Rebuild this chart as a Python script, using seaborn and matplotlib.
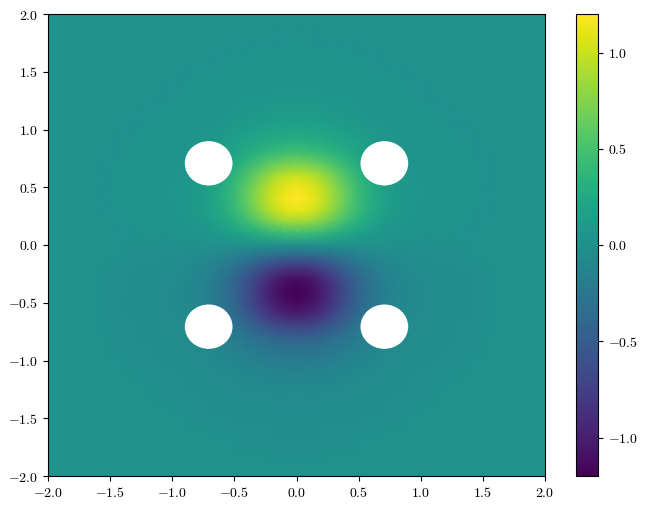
import numpy as np
import matplotlib
matplotlib.use('Agg')
import matplotlib.pyplot as plt
from matplotlib.patches import Circle
import seaborn as sns

# field, x = 0..2 (columns), y = 0..2 (rows), step 0.1
# the picture is mirrored left/right and flips sign top/bottom
quadrant = [
    [0.00, 0.00, 0.00, 0.00, 0.00, 0.00, 0.00, 0.00, 0.00, 0.00, 0.00, 0.00, 0.00, 0.00, 0.00, 0.00, 0.00, 0.00, 0.00, 0.00, 0.00],
    [0.45, 0.43, 0.38, 0.31, 0.23, 0.16, 0.11, 0.07, 0.04, 0.03, 0.02, 0.01, 0.01, 0.01, 0.00, 0.00, 0.00, 0.00, 0.00, 0.00, 0.00],
    [0.85, 0.82, 0.72, 0.59, 0.44, 0.31, 0.20, 0.13, 0.08, 0.05, 0.03, 0.03, 0.02, 0.01, 0.01, 0.00, 0.00, 0.00, 0.00, 0.00, 0.00],
    [1.12, 1.08, 0.95, 0.77, 0.58, 0.40, 0.27, 0.17, 0.10, 0.07, 0.04, 0.03, 0.02, 0.02, 0.01, 0.01, 0.00, 0.00, 0.00, 0.00, 0.00],
    [1.20, 1.15, 1.02, 0.83, 0.62, 0.43, 0.29, 0.18, 0.11, 0.07, 0.05, 0.04, 0.02, 0.02, 0.01, 0.01, 0.00, 0.00, 0.00, 0.00, 0.00],
    [1.15, 1.10, 0.98, 0.79, 0.60, 0.41, 0.28, 0.17, 0.10, 0.07, 0.05, 0.03, 0.02, 0.02, 0.01, 0.01, 0.00, 0.00, 0.00, 0.00, 0.00],
    [1.00, 0.96, 0.85, 0.69, 0.52, 0.36, 0.24, 0.15, 0.09, 0.06, 0.04, 0.03, 0.02, 0.02, 0.01, 0.01, 0.00, 0.00, 0.00, 0.00, 0.00],
    [0.72, 0.69, 0.62, 0.51, 0.39, 0.28, 0.19, 0.12, 0.08, 0.05, 0.04, 0.03, 0.02, 0.01, 0.01, 0.01, 0.00, 0.00, 0.00, 0.00, 0.00],
    [0.47, 0.46, 0.41, 0.34, 0.27, 0.20, 0.14, 0.09, 0.06, 0.04, 0.03, 0.02, 0.02, 0.01, 0.01, 0.00, 0.00, 0.00, 0.00, 0.00, 0.00],
    [0.30, 0.29, 0.27, 0.23, 0.19, 0.15, 0.11, 0.07, 0.05, 0.03, 0.02, 0.02, 0.01, 0.01, 0.01, 0.00, 0.00, 0.00, 0.00, 0.00, 0.00],
    [0.20, 0.19, 0.18, 0.16, 0.13, 0.10, 0.08, 0.05, 0.04, 0.03, 0.02, 0.01, 0.01, 0.01, 0.00, 0.00, 0.00, 0.00, 0.00, 0.00, 0.00],
    [0.13, 0.13, 0.12, 0.10, 0.09, 0.07, 0.05, 0.04, 0.03, 0.02, 0.01, 0.01, 0.01, 0.00, 0.00, 0.00, 0.00, 0.00, 0.00, 0.00, 0.00],
    [0.09, 0.09, 0.08, 0.07, 0.06, 0.05, 0.04, 0.03, 0.02, 0.01, 0.01, 0.01, 0.00, 0.00, 0.00, 0.00, 0.00, 0.00, 0.00, 0.00, 0.00],
    [0.06, 0.06, 0.05, 0.05, 0.04, 0.03, 0.03, 0.02, 0.01, 0.01, 0.01, 0.00, 0.00, 0.00, 0.00, 0.00, 0.00, 0.00, 0.00, 0.00, 0.00],
    [0.04, 0.04, 0.03, 0.03, 0.03, 0.02, 0.02, 0.01, 0.01, 0.01, 0.00, 0.00, 0.00, 0.00, 0.00, 0.00, 0.00, 0.00, 0.00, 0.00, 0.00],
    [0.03, 0.02, 0.02, 0.02, 0.02, 0.01, 0.01, 0.01, 0.01, 0.00, 0.00, 0.00, 0.00, 0.00, 0.00, 0.00, 0.00, 0.00, 0.00, 0.00, 0.00],
    [0.02, 0.02, 0.01, 0.01, 0.01, 0.01, 0.01, 0.00, 0.00, 0.00, 0.00, 0.00, 0.00, 0.00, 0.00, 0.00, 0.00, 0.00, 0.00, 0.00, 0.00],
    [0.01, 0.01, 0.01, 0.01, 0.01, 0.00, 0.00, 0.00, 0.00, 0.00, 0.00, 0.00, 0.00, 0.00, 0.00, 0.00, 0.00, 0.00, 0.00, 0.00, 0.00],
    [0.01, 0.01, 0.00, 0.00, 0.00, 0.00, 0.00, 0.00, 0.00, 0.00, 0.00, 0.00, 0.00, 0.00, 0.00, 0.00, 0.00, 0.00, 0.00, 0.00, 0.00],
    [0.00, 0.00, 0.00, 0.00, 0.00, 0.00, 0.00, 0.00, 0.00, 0.00, 0.00, 0.00, 0.00, 0.00, 0.00, 0.00, 0.00, 0.00, 0.00, 0.00, 0.00],
    [0.00, 0.00, 0.00, 0.00, 0.00, 0.00, 0.00, 0.00, 0.00, 0.00, 0.00, 0.00, 0.00, 0.00, 0.00, 0.00, 0.00, 0.00, 0.00, 0.00, 0.00],
]
hole_x = [-0.707, 0.707, -0.707, 0.707]
hole_y = [0.707, 0.707, -0.707, -0.707]
hole_radius = 0.192
axis_ticks = [-2.0, -1.5, -1.0, -0.5, 0.0, 0.5, 1.0, 1.5, 2.0]
cbar_ticks = [-1.0, -0.5, 0.0, 0.5, 1.0]

sns.set_theme(style='ticks', rc={'mathtext.fontset': 'cm', 'font.size': 10,
                                 'xtick.labelsize': 10, 'ytick.labelsize': 10})

quad = np.array(quadrant)
right_left = np.hstack([quad[:, :0:-1], quad])
field = np.vstack([right_left[:0:-1], right_left[0:1], -right_left[1:]])


def to_index(v):
    return (v + 2.0) * 10


fig = plt.figure(figsize=(6.46, 5.08), dpi=100)
ax = fig.add_axes([48 / 646, 1 - 476 / 508, 497 / 646, 462 / 508])
cax = fig.add_axes([575.5 / 646, 1 - 476 / 508, 22.5 / 646, 462 / 508])

sns.heatmap(field, ax=ax, cbar_ax=cax, cmap='viridis', vmin=-1.2, vmax=1.2,
            shading='gouraud', xticklabels=False, yticklabels=False)
ax.set_xlim(0, 40)
ax.set_ylim(40, 0)

for x, y in zip(hole_x, hole_y):
    ax.add_patch(Circle((to_index(x), to_index(-y)), hole_radius * 10, color='white', lw=0))

labels = [f'${v:.1f}$' for v in axis_ticks]
ax.set_xticks([to_index(v) for v in axis_ticks], labels, rotation=0)
ax.set_yticks([to_index(-v) for v in axis_ticks], labels, rotation=0)
ax.tick_params(length=3.5, width=0.8, color='black', labelcolor='black', bottom=True, left=True)
for spine in ax.spines.values():
    spine.set_visible(True)
    spine.set_color('black')
    spine.set_linewidth(0.8)

cb = ax.collections[0].colorbar
cb.set_ticks(cbar_ticks, labels=[f'${v:.1f}$' for v in cbar_ticks])
cb.ax.tick_params(length=3.5, width=0.8, color='black', labelcolor='black', right=True)
cb.outline.set_visible(True)
cb.outline.set_edgecolor('black')
cb.outline.set_linewidth(0.8)

fig.savefig('out.png', dpi=100)
